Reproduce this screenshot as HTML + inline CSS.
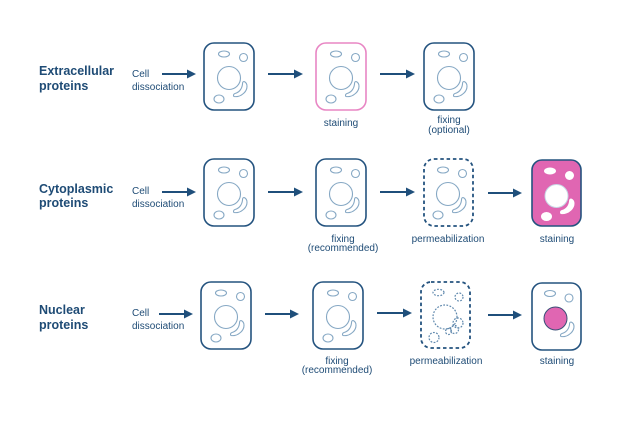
<!DOCTYPE html>
<html><head><meta charset="utf-8"><style>
html,body{margin:0;padding:0;background:#fff;}
svg{display:block;}
.t{font-family:"Liberation Sans",sans-serif;font-weight:bold;font-size:12.5px;fill:#1e4b75;}
.s{font-family:"Liberation Sans",sans-serif;font-size:10px;fill:#1e4b75;}
.c{text-anchor:middle;}
</style></head><body>
<svg width="624" height="423" viewBox="0 0 624 423" xmlns="http://www.w3.org/2000/svg">
<defs>
<marker id="ah" markerWidth="10" markerHeight="10" refX="0" refY="5" orient="auto" markerUnits="userSpaceOnUse">
<path d="M0,0.5 L9,5 L0,9.5 Z" fill="#1f4f7b"/>
</marker>
</defs>

<text class="t" x="39" y="75">Extracellular</text>
<text class="t" x="39" y="90">proteins</text>
<text class="t" x="39" y="193">Cytoplasmic</text>
<text class="t" x="39" y="207">proteins</text>
<text class="t" x="39" y="314">Nuclear</text>
<text class="t" x="39" y="329">proteins</text>

<text class="s" x="132" y="77">Cell</text>
<text class="s" x="132" y="90">dissociation</text>
<text class="s" x="132" y="194">Cell</text>
<text class="s" x="132" y="207">dissociation</text>
<text class="s" x="132" y="316">Cell</text>
<text class="s" x="132" y="329">dissociation</text>

<g stroke="#1f4f7b" stroke-width="2" fill="none">
<line x1="162" y1="74" x2="187" y2="74" marker-end="url(#ah)"/>
<line x1="268" y1="74" x2="294" y2="74" marker-end="url(#ah)"/>
<line x1="380" y1="74" x2="406" y2="74" marker-end="url(#ah)"/>
<line x1="162" y1="192" x2="187" y2="192" marker-end="url(#ah)"/>
<line x1="268" y1="192" x2="294" y2="192" marker-end="url(#ah)"/>
<line x1="380" y1="192" x2="406" y2="192" marker-end="url(#ah)"/>
<line x1="488" y1="193" x2="513" y2="193" marker-end="url(#ah)"/>
<line x1="159" y1="314" x2="184" y2="314" marker-end="url(#ah)"/>
<line x1="265" y1="314" x2="290" y2="314" marker-end="url(#ah)"/>
<line x1="377" y1="313" x2="403" y2="313" marker-end="url(#ah)"/>
<line x1="488" y1="315" x2="513" y2="315" marker-end="url(#ah)"/>
</g>

<g transform="translate(204,43)">
<rect x="0" y="0" width="50" height="67" rx="10" fill="none" stroke="#24537f" stroke-width="1.6"/>
<g fill="none" stroke="#86a8c4" stroke-width="1.1">
<ellipse cx="20" cy="11" rx="5.5" ry="3"/><circle cx="39.5" cy="14.5" r="4"/><circle cx="25" cy="35" r="11.5"/><ellipse cx="15" cy="56" rx="5" ry="4"/>
<path d="M40,38.5 C44,40 44,46 40,50 C37,53 33,54 30,53.5 C29,52.5 29.5,51 31,50.5 C35,49.5 38,46 38.5,41 C38.5,39.5 39,38.5 40,38.5 Z"/>
</g></g>
<g transform="translate(316,43)">
<rect x="0" y="0" width="50" height="67" rx="10" fill="none" stroke="#e886c4" stroke-width="1.6"/>
<g fill="none" stroke="#86a8c4" stroke-width="1.1">
<ellipse cx="20" cy="11" rx="5.5" ry="3"/><circle cx="39.5" cy="14.5" r="4"/><circle cx="25" cy="35" r="11.5"/><ellipse cx="15" cy="56" rx="5" ry="4"/>
<path d="M40,38.5 C44,40 44,46 40,50 C37,53 33,54 30,53.5 C29,52.5 29.5,51 31,50.5 C35,49.5 38,46 38.5,41 C38.5,39.5 39,38.5 40,38.5 Z"/>
</g></g>
<g transform="translate(424,43)">
<rect x="0" y="0" width="50" height="67" rx="10" fill="none" stroke="#24537f" stroke-width="1.6"/>
<g fill="none" stroke="#86a8c4" stroke-width="1.1">
<ellipse cx="20" cy="11" rx="5.5" ry="3"/><circle cx="39.5" cy="14.5" r="4"/><circle cx="25" cy="35" r="11.5"/><ellipse cx="15" cy="56" rx="5" ry="4"/>
<path d="M40,38.5 C44,40 44,46 40,50 C37,53 33,54 30,53.5 C29,52.5 29.5,51 31,50.5 C35,49.5 38,46 38.5,41 C38.5,39.5 39,38.5 40,38.5 Z"/>
</g></g>

<g transform="translate(204,159)">
<rect x="0" y="0" width="50" height="67" rx="10" fill="none" stroke="#24537f" stroke-width="1.6"/>
<g fill="none" stroke="#86a8c4" stroke-width="1.1">
<ellipse cx="20" cy="11" rx="5.5" ry="3"/><circle cx="39.5" cy="14.5" r="4"/><circle cx="25" cy="35" r="11.5"/><ellipse cx="15" cy="56" rx="5" ry="4"/>
<path d="M40,38.5 C44,40 44,46 40,50 C37,53 33,54 30,53.5 C29,52.5 29.5,51 31,50.5 C35,49.5 38,46 38.5,41 C38.5,39.5 39,38.5 40,38.5 Z"/>
</g></g>
<g transform="translate(316,159)">
<rect x="0" y="0" width="50" height="67" rx="10" fill="none" stroke="#24537f" stroke-width="1.6"/>
<g fill="none" stroke="#86a8c4" stroke-width="1.1">
<ellipse cx="20" cy="11" rx="5.5" ry="3"/><circle cx="39.5" cy="14.5" r="4"/><circle cx="25" cy="35" r="11.5"/><ellipse cx="15" cy="56" rx="5" ry="4"/>
<path d="M40,38.5 C44,40 44,46 40,50 C37,53 33,54 30,53.5 C29,52.5 29.5,51 31,50.5 C35,49.5 38,46 38.5,41 C38.5,39.5 39,38.5 40,38.5 Z"/>
</g></g>
<g transform="translate(424,159)">
<rect x="0" y="0" width="49" height="67" rx="10" fill="none" stroke="#24537f" stroke-width="1.8" stroke-dasharray="3.5,2.8"/>
<g fill="none" stroke="#86a8c4" stroke-width="1.1">
<ellipse cx="19" cy="11" rx="5.5" ry="3"/><circle cx="38.5" cy="14.5" r="4"/><circle cx="24" cy="35" r="11.5"/><ellipse cx="14" cy="56" rx="5" ry="4"/>
<path d="M39,38.5 C43,40 43,46 39,50 C36,53 32,54 29,53.5 C28,52.5 28.5,51 30,50.5 C34,49.5 37,46 37.5,41 C37.5,39.5 38,38.5 39,38.5 Z"/>
</g></g>
<g transform="translate(532,160)">
<rect x="0" y="0" width="49" height="66" rx="10" fill="#e066b2" stroke="#24537f" stroke-width="1.6"/>
<g fill="#fff" stroke="#fff" stroke-width="1">
<ellipse cx="18" cy="11" rx="5.5" ry="3"/><circle cx="37.5" cy="15.5" r="4"/><ellipse cx="14.5" cy="56.5" rx="5" ry="4"/>
<path d="M39,39 C43,40.5 43,46 39,50 C36,53 32,54 29,53.5 C28,52.5 28.5,51 30,50.5 C34,49.5 37,46 37.5,41.5 C37.5,40 38,39 39,39 Z"/>
</g>
<circle cx="24.5" cy="36" r="11.5" fill="#fff" stroke="#c7d7e5" stroke-width="1"/>
</g>

<g transform="translate(201,282)">
<rect x="0" y="0" width="50" height="67" rx="10" fill="none" stroke="#24537f" stroke-width="1.6"/>
<g fill="none" stroke="#86a8c4" stroke-width="1.1">
<ellipse cx="20" cy="11" rx="5.5" ry="3"/><circle cx="39.5" cy="14.5" r="4"/><circle cx="25" cy="35" r="11.5"/><ellipse cx="15" cy="56" rx="5" ry="4"/>
<path d="M40,38.5 C44,40 44,46 40,50 C37,53 33,54 30,53.5 C29,52.5 29.5,51 31,50.5 C35,49.5 38,46 38.5,41 C38.5,39.5 39,38.5 40,38.5 Z"/>
</g></g>
<g transform="translate(313,282)">
<rect x="0" y="0" width="50" height="67" rx="10" fill="none" stroke="#24537f" stroke-width="1.6"/>
<g fill="none" stroke="#86a8c4" stroke-width="1.1">
<ellipse cx="20" cy="11" rx="5.5" ry="3"/><circle cx="39.5" cy="14.5" r="4"/><circle cx="25" cy="35" r="11.5"/><ellipse cx="15" cy="56" rx="5" ry="4"/>
<path d="M40,38.5 C44,40 44,46 40,50 C37,53 33,54 30,53.5 C29,52.5 29.5,51 31,50.5 C35,49.5 38,46 38.5,41 C38.5,39.5 39,38.5 40,38.5 Z"/>
</g></g>
<g transform="translate(421,282)">
<rect x="0" y="0" width="49" height="66" rx="10" fill="none" stroke="#24537f" stroke-width="1.8" stroke-dasharray="3.5,2.8"/>
<g fill="none" stroke="#5f88ad" stroke-width="1.2" stroke-dasharray="1.8,1.4">
<ellipse cx="17.5" cy="10.5" rx="5.5" ry="3.2"/><circle cx="38" cy="15" r="4"/><circle cx="24" cy="35" r="12"/>
<circle cx="37" cy="41" r="5"/><circle cx="33.5" cy="47.5" r="4"/><circle cx="27.5" cy="49.5" r="3"/>
<circle cx="13" cy="55.5" r="5"/>
</g></g>
<g transform="translate(532,283)">
<rect x="0" y="0" width="49" height="67" rx="10" fill="none" stroke="#24537f" stroke-width="1.6"/>
<g fill="none" stroke="#86a8c4" stroke-width="1.1">
<ellipse cx="18" cy="10.5" rx="5.5" ry="3"/><circle cx="37" cy="15" r="4"/>
<path d="M39,39 C43,40.5 43,46 39,50 C36,53 32,54 29,53.5 C28,52.5 28.5,51 30,50.5 C34,49.5 37,46 37.5,41.5 C37.5,40 38,39 39,39 Z"/>
</g>
<circle cx="23.5" cy="35.5" r="11.5" fill="#e066b2" stroke="#3a4f77" stroke-width="1"/>
</g>

<text class="s c" x="341" y="126">staining</text>
<text class="s c" x="449" y="123">fixing</text>
<text class="s c" x="449" y="133">(optional)</text>

<text class="s c" x="343" y="242">fixing</text>
<text class="s c" x="343" y="251">(recommended)</text>
<text class="s c" x="448" y="242">permeabilization</text>
<text class="s c" x="557" y="242">staining</text>

<text class="s c" x="337" y="364">fixing</text>
<text class="s c" x="337" y="373">(recommended)</text>
<text class="s c" x="446" y="364">permeabilization</text>
<text class="s c" x="557" y="364">staining</text>
</svg>
</body></html>
